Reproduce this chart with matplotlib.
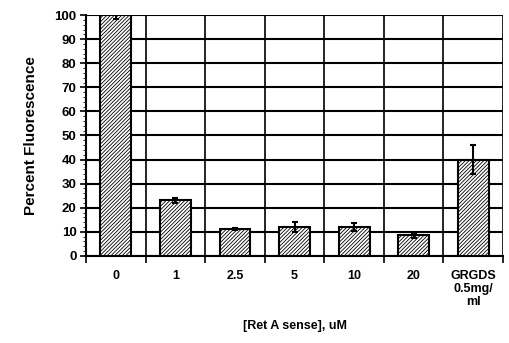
import matplotlib
matplotlib.use("Agg")
import matplotlib.pyplot as plt
import numpy as np

categories = ["0", "1", "2.5", "5", "10", "20", "GRGDS\n0.5mg/\nml"]
values = [100, 23, 11, 12, 12, 8.5, 40]
errors = [1.5, 1, 0.4, 2, 1.5, 1, 6]
yticks = list(range(0, 101, 10))

plt.rcParams['hatch.linewidth'] = 0.6
plt.rcParams['hatch.color'] = "#333333"
fig = plt.figure(figsize=(5.1, 3.43), dpi=100)
ax = fig.add_axes([0.169, 0.254, 0.817, 0.702])
x = np.arange(len(categories))
ax.bar(x, values, width=0.52, color="white", edgecolor="black", hatch="/////////",
       linewidth=1.5, yerr=errors, capsize=2.5, error_kw=dict(elinewidth=1.5, capthick=1.5, ecolor="black"),
       zorder=3)
ax.set_xlim(-0.5, len(categories) - 0.5)
ax.set_ylim(0, 100)
ax.set_yticks(yticks)
ax.set_yticks(np.arange(0, 101, 2), minor=True)
ax.set_xticks(x)
ax.set_xticklabels(categories, fontsize=9, fontweight="bold", family="Liberation Sans", linespacing=1.15)
ax.set_xticks(np.arange(-0.5, len(categories), 1), minor=True)
ax.tick_params(axis="x", which="major", length=0, pad=10)
ax.tick_params(axis="x", which="minor", length=5, width=1.2, direction="out")
ax.tick_params(axis="y", which="major", length=4, width=1.2, labelsize=9.5, pad=3)
ax.tick_params(axis="y", which="minor", length=2, width=0.6)
for lbl in ax.get_yticklabels():
    lbl.set_fontweight("bold")
    lbl.set_family("Liberation Sans")
ax.grid(True, axis="y", which="major", color="black", linewidth=1.5, zorder=0)
ax.grid(True, axis="x", which="minor", color="black", linewidth=1.2, zorder=0)
for s in ["top", "right"]:
    ax.spines[s].set_visible(False)
for s in ["left", "bottom"]:
    ax.spines[s].set_linewidth(1.5)
ax.set_ylabel("Percent Fluorescence", fontsize=11, fontweight="bold", family="Liberation Sans", labelpad=12)
ax.set_xlabel("[Ret A sense], uM", fontsize=9, fontweight="bold", family="Liberation Sans", labelpad=8)
fig.savefig("out.png", dpi=100, facecolor="white")
